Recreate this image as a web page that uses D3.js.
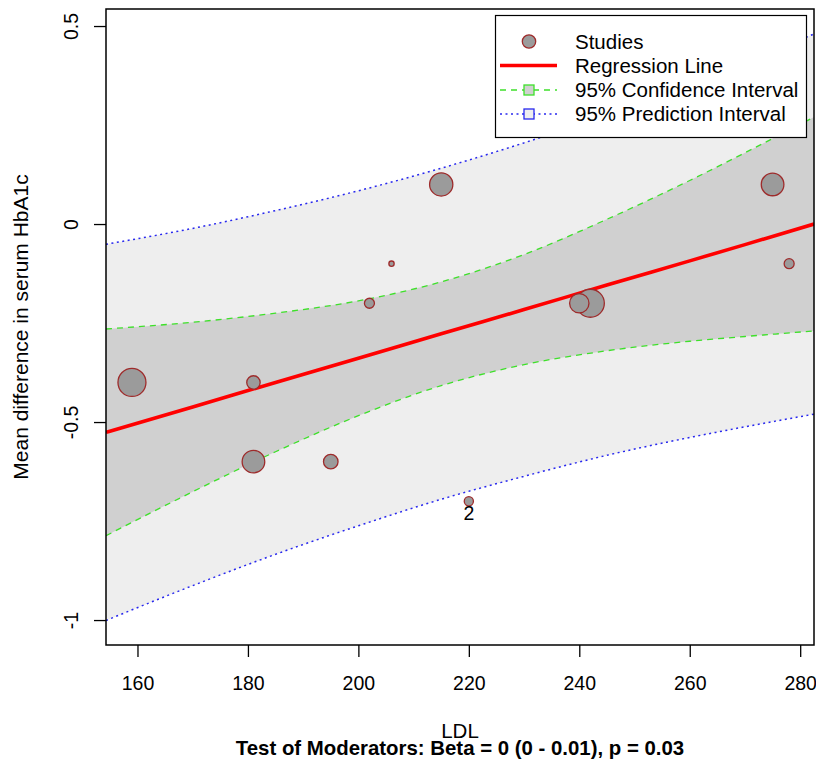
<!DOCTYPE html>
<html>
<head>
<meta charset="utf-8">
<script src="https://cdn.jsdelivr.net/npm/d3@7"></script>
<style>
  body { margin: 0; background: #fff; }
  svg { font-family: "Liberation Sans", Arial, sans-serif; }
</style>
</head>
<body>
<script>
// studies (bubble size ~ weight)
var studyLdl = [159, 181, 181, 195, 202, 206, 215, 220, 240, 242, 275, 278];
var studyEffect = [-0.4, -0.4, -0.6, -0.6, -0.2, -0.1, 0.1, -0.7, -0.2, -0.2, 0.1, -0.1];
var studyWeight = [196, 45, 128, 53, 25, 7, 135, 21, 94, 196, 128, 25];
var studyLabel = ['', '', '', '', '', '', '', '2', '', '', '', ''];

var gridLdl = [154.3, 170, 185, 200, 215, 230, 245, 260, 270, 282.5];
var fitLine = [-0.526, -0.462, -0.400, -0.339, -0.277, -0.216, -0.154, -0.093, -0.052, 0.0];
var ciLower = [-0.787, -0.676, -0.575, -0.484, -0.408, -0.355, -0.320, -0.296, -0.284, -0.270];
var ciUpper = [-0.265, -0.248, -0.225, -0.194, -0.146, -0.077, 0.012, 0.110, 0.180, 0.270];
var piLower = [-1.001, -0.913, -0.834, -0.762, -0.695, -0.637, -0.584, -0.539, -0.512, -0.480];
var piUpper = [-0.051, -0.011, 0.034, 0.084, 0.141, 0.205, 0.276, 0.353, 0.408, 0.480];

var xTicks = [160, 180, 200, 220, 240, 260, 280];
var yTicks = [-1, -0.5, 0, 0.5];

var legendItems = ['Studies', 'Regression Line', '95% Confidence Interval', '95% Prediction Interval'];

var w = 816, h = 769;
var pLeft = 106, pRight = 814, pTop = 9, pBottom = 645;

var svg = d3.select('body').append('svg')
            .attr('width', w)
            .attr('height', h);

var x = d3.scaleLinear().domain([154.3, 282.5]).range([pLeft, pRight]);
var y = d3.scaleLinear().domain([-1.063, 0.543]).range([pBottom, pTop]);
var r = d3.scaleSqrt().domain([0, d3.max(studyWeight)]).range([0, 14]);

svg.append('clipPath').attr('id', 'plotclip')
   .append('rect')
   .attr('x', pLeft).attr('y', pTop)
   .attr('width', pRight - pLeft).attr('height', pBottom - pTop);

var plot = svg.append('g').attr('clip-path', 'url(#plotclip)');

var idx = d3.range(gridLdl.length);
var curve = d3.curveMonotoneX;

function band(lo, hi) {
  return d3.area()
           .x(function(i) { return x(gridLdl[i]); })
           .y0(function(i) { return y(lo[i]); })
           .y1(function(i) { return y(hi[i]); })
           .curve(curve)(idx);
}
function line(vals) {
  return d3.line()
           .x(function(i) { return x(gridLdl[i]); })
           .y(function(i) { return y(vals[i]); })
           .curve(curve)(idx);
}

// shaded bands
plot.append('path').attr('d', band(piLower, piUpper)).attr('fill', '#eeeeee');
plot.append('path').attr('d', band(ciLower, ciUpper)).attr('fill', '#d0d0d0');

// interval bounds
[piLower, piUpper].forEach(function(v) {
  plot.append('path').attr('d', line(v))
      .attr('fill', 'none').attr('stroke', '#2828ee')
      .attr('stroke-width', 1.5).attr('stroke-dasharray', '2,3.5');
});
[ciLower, ciUpper].forEach(function(v) {
  plot.append('path').attr('d', line(v))
      .attr('fill', 'none').attr('stroke', '#3ee02a')
      .attr('stroke-width', 1.3).attr('stroke-dasharray', '6,5');
});

// regression line
plot.append('path').attr('d', line(fitLine))
    .attr('fill', 'none').attr('stroke', '#ff0000')
    .attr('stroke-width', 3.6);

// bubbles, big ones first
var order = d3.range(studyLdl.length).sort(function(a, b) {
  return studyWeight[b] - studyWeight[a];
});
plot.selectAll('circle.study')
    .data(order)
    .enter()
    .append('circle')
    .attr('class', 'study')
    .attr('cx', function(i) { return x(studyLdl[i]); })
    .attr('cy', function(i) { return y(studyEffect[i]); })
    .attr('r', function(i) { return r(studyWeight[i]); })
    .attr('fill', '#9b9b9b')
    .attr('stroke', '#9e2b2b')
    .attr('stroke-width', 1.3);

svg.selectAll('text.lab')
   .data(d3.range(studyLdl.length).filter(function(i) { return studyLabel[i] !== ''; }))
   .enter()
   .append('text')
   .attr('class', 'lab')
   .attr('x', function(i) { return x(studyLdl[i]); })
   .attr('y', function(i) { return y(studyEffect[i]) + 19; })
   .attr('text-anchor', 'middle')
   .attr('font-size', '19.5px')
   .text(function(i) { return studyLabel[i]; });

// legend
var lg = svg.append('g');
lg.append('rect')
  .attr('x', 495.5).attr('y', 15.5).attr('width', 311).attr('height', 122)
  .attr('fill', '#fff').attr('stroke', '#000').attr('stroke-width', 1.2);
var rowY = [41.5, 65.5, 90, 114];
lg.append('circle').attr('cx', 529).attr('cy', rowY[0]).attr('r', 6.7)
  .attr('fill', '#9b9b9b').attr('stroke', '#9e2b2b').attr('stroke-width', 1.3);
lg.append('line').attr('x1', 500).attr('x2', 557).attr('y1', rowY[1]).attr('y2', rowY[1])
  .attr('stroke', '#ff0000').attr('stroke-width', 3.6);
lg.append('line').attr('x1', 500).attr('x2', 557).attr('y1', rowY[2]).attr('y2', rowY[2])
  .attr('stroke', '#3ee02a').attr('stroke-width', 1.3).attr('stroke-dasharray', '6,5');
lg.append('rect').attr('x', 524).attr('y', rowY[2] - 5).attr('width', 10).attr('height', 10)
  .attr('fill', '#d0d0d0').attr('stroke', '#3ee02a').attr('stroke-width', 1.3);
lg.append('line').attr('x1', 500).attr('x2', 557).attr('y1', rowY[3]).attr('y2', rowY[3])
  .attr('stroke', '#2828ee').attr('stroke-width', 1.5).attr('stroke-dasharray', '2,3.5');
lg.append('rect').attr('x', 524).attr('y', rowY[3] - 5).attr('width', 10).attr('height', 10)
  .attr('fill', '#eeeeee').attr('stroke', '#2828ee').attr('stroke-width', 1.3);
lg.selectAll('text')
  .data(legendItems)
  .enter()
  .append('text')
  .attr('x', 575)
  .attr('y', function(d, i) { return rowY[i] + 7; })
  .attr('font-size', '20.5px')
  .text(function(d) { return d; });

// box
svg.append('rect')
   .attr('x', pLeft).attr('y', pTop)
   .attr('width', pRight - pLeft).attr('height', pBottom - pTop)
   .attr('fill', 'none').attr('stroke', '#000').attr('stroke-width', 1.5);

// axes
var xAxis = svg.append('g')
   .attr('transform', 'translate(0,' + pBottom + ')')
   .call(d3.axisBottom(x).tickValues(xTicks).tickSize(12).tickFormat(function(d) { return d; }));
xAxis.select('.domain').remove();
xAxis.selectAll('line').attr('stroke', '#000').attr('stroke-width', 1.3);
xAxis.selectAll('text')
     .attr('y', 45).attr('dy', 0)
     .attr('font-size', '19.5px').attr('font-family', null).attr('fill', '#000');

var yAxis = svg.append('g')
   .attr('transform', 'translate(' + pLeft + ',0)')
   .call(d3.axisLeft(y).tickValues(yTicks).tickSize(12).tickFormat(function(d) { return String(d); }));
yAxis.select('.domain').remove();
yAxis.selectAll('line').attr('stroke', '#000').attr('stroke-width', 1.3);
yAxis.selectAll('text')
     .attr('transform', 'rotate(-90)')
     .attr('x', 0).attr('y', -28).attr('dy', 0)
     .attr('text-anchor', 'middle')
     .attr('font-size', '19.5px').attr('font-family', null).attr('fill', '#000');

// titles
svg.append('text')
   .attr('x', (pLeft + pRight) / 2).attr('y', 738)
   .attr('text-anchor', 'middle').attr('font-size', '20.5px')
   .text('LDL');
svg.append('text')
   .attr('x', (pLeft + pRight) / 2).attr('y', 755)
   .attr('text-anchor', 'middle').attr('font-size', '20.4px').attr('font-weight', 'bold')
   .text('Test of Moderators: Beta = 0 (0 - 0.01), p = 0.03');
svg.append('text')
   .attr('transform', 'translate(28,' + ((pTop + pBottom) / 2) + ') rotate(-90)')
   .attr('text-anchor', 'middle').attr('font-size', '21px')
   .text('Mean difference in serum HbA1c');
</script>
</body>
</html>
